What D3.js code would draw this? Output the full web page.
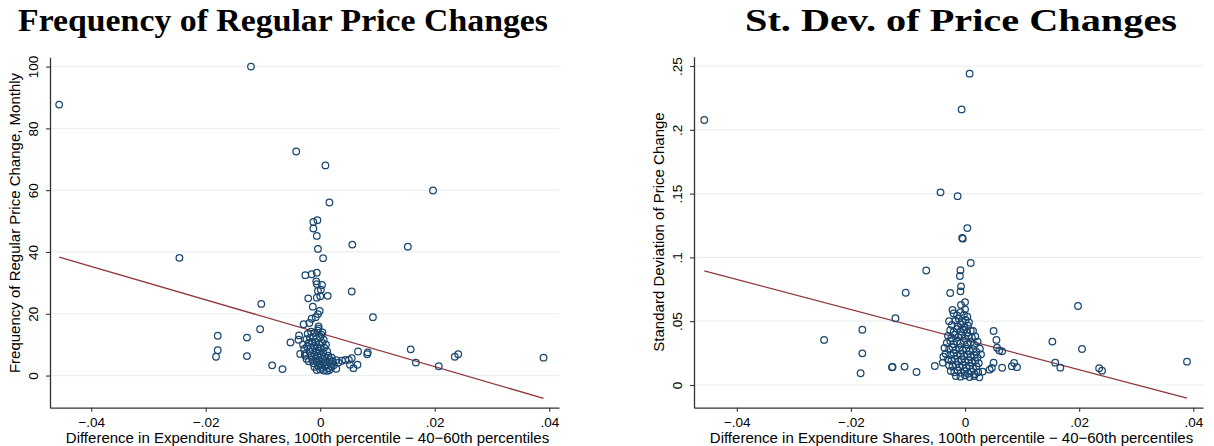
<!DOCTYPE html>
<html>
<head>
<meta charset="utf-8">
<script src="https://cdn.jsdelivr.net/npm/d3@7"></script>
<style>
  body { margin: 0; background: #fff; }
  svg { display: block; }
  .tick text { font-family: "Liberation Sans", Arial, sans-serif; font-size: 13.5px; fill: #000; }
  .axis-title { font-family: "Liberation Sans", Arial, sans-serif; font-size: 15px; fill: #000; }
  .panel-title { font-family: "Liberation Serif", serif; font-weight: bold; font-size: 32px; fill: #000; }
</style>
</head>
<body>
<svg id="chart" width="1214" height="446"></svg>
<script>
// figure size
const width = 1214;
const height = 446;

// x axis is shared by both panels
const xTicks = [-0.04, -0.02, 0, 0.02, 0.04];
const xTickLabels = ["\u2212.04", "\u2212.02", "0", ".02", ".04"];
const xTitle = "Difference in Expenditure Shares, 100th percentile \u2212 40\u221260th percentiles";

// left panel: frequency of regular price changes  [x, y]
const freqTitle = "Frequency of Regular Price Changes";
const freqYTitle = "Frequency of Regular Price Change, Monthly";
const freqYTicks = [0, 20, 40, 60, 80, 100];
const freqYTickLabels = ["0", "20", "40", "60", "80", "100"];
const freqPoints = [
  [-0.0456, 87.7], [-0.0121, 100], [-0.0042, 72.5], [0.0009, 68.0], [0.0197, 59.9],
  [0.0016, 56.0], [-0.0012, 49.7], [-0.0005, 50.3], [-0.0012, 47.6], [-0.0006, 45.2],
  [0.0056, 42.4], [0.0153, 41.7], [-0.0004, 41.0], [0.0005, 38.0], [-0.0246, 38.1],
  [-0.0026, 32.5], [-0.0015, 32.8], [-0.0006, 33.3], [-0.0007, 30.5], [-0.0006, 29.6],
  [0.0003, 29.3], [0.0001, 27.8], [-0.0004, 27.4], [0.0055, 27.2], [-0.0021, 25.0],
  [-0.0006, 25.2], [0.0000, 25.7], [0.0013, 25.8], [-0.0013, 22.3], [-0.0001, 20.9],
  [-0.0004, 19.9], [-0.0008, 18.9], [-0.0015, 18.4], [0.0092, 18.9], [-0.0029, 16.6],
  [-0.0019, 17.0], [-0.0003, 15.9], [-0.0103, 23.2], [-0.0179, 12.9], [-0.0179, 8.2],
  [-0.0182, 6.1], [-0.0128, 12.3], [-0.0128, 6.3], [-0.0105, 15.0], [-0.0084, 3.3],
  [-0.0066, 2.1], [-0.0052, 10.7], [-0.0037, 13.0], [-0.0038, 11.6], [-0.0035, 7.0],
  [0.0066, 7.8], [0.0083, 7.5], [0.0082, 6.9], [0.0055, 5.6], [0.0050, 5.1],
  [0.0044, 5.1], [0.0038, 4.8], [0.0065, 3.5], [0.0058, 2.4], [0.0052, 3.5],
  [0.0158, 8.5], [0.0167, 4.2], [0.0207, 3.0], [0.0235, 6.1], [0.0241, 6.9],
  [0.0390, 5.8], [0.0012, 1.5],
  // dense part around zero
  [-0.0022, 13.5], [-0.0016, 14.2], [-0.0010, 13.8], [-0.0004, 14.5], [0.0002, 13.2],
  [-0.0024, 11.8], [-0.0018, 12.2], [-0.0012, 12.6], [-0.0006, 12.0], [0.0000, 12.4], [0.0006, 11.6],
  [-0.0020, 10.6], [-0.0014, 11.0], [-0.0008, 10.8], [-0.0002, 10.2], [0.0004, 10.6], [0.0010, 10.0],
  [-0.0023, 9.4], [-0.0017, 9.0], [-0.0011, 9.6], [-0.0005, 9.2], [0.0001, 8.8], [0.0007, 9.0],
  [-0.0019, 7.8], [-0.0013, 8.2], [-0.0007, 7.6], [-0.0001, 8.0], [0.0005, 7.4], [0.0012, 7.8],
  [-0.0027, 7.0], [-0.0030, 10.0], [-0.0003, 15.2], [0.0004, 14.0], [-0.0028, 8.6], [-0.0026, 6.4],
  [-0.0016, 6.4], [-0.0010, 6.8], [-0.0004, 6.2], [0.0002, 6.6], [0.0008, 6.0], [0.0014, 6.4], [0.0020, 5.8],
  [-0.0014, 5.2], [-0.0008, 5.6], [-0.0002, 5.0], [0.0004, 5.4], [0.0010, 4.8], [0.0016, 5.2], [0.0022, 4.6], [0.0028, 5.0],
  [-0.0012, 4.0], [-0.0006, 4.4], [0.0000, 3.8], [0.0006, 4.2], [0.0012, 3.6], [0.0018, 4.0], [0.0024, 3.4], [0.0032, 4.2],
  [-0.0010, 2.8], [-0.0004, 3.2], [0.0002, 2.6], [0.0008, 3.0], [0.0014, 2.4], [0.0020, 2.8], [0.0028, 2.2],
  [-0.0006, 1.8], [0.0000, 2.0], [0.0006, 1.6], [0.0016, 1.8], [-0.0020, 4.6], [-0.0024, 5.4]
];
const freqFit = { intercept: 13.7, slope: -541 };

// right panel: st. dev. of price changes  [x, y]
const sdTitle = "St. Dev. of Price Changes";
const sdYTitle = "Standard Deviation of Price Change";
const sdYTicks = [0, 0.05, 0.1, 0.15, 0.2, 0.25];
const sdYTickLabels = ["0", ".05", ".1", ".15", ".2", ".25"];
const sdPoints = [
  [-0.0457, 0.2077], [0.0008, 0.244], [-0.0006, 0.216], [-0.0043, 0.151], [-0.0013, 0.148],
  [0.0004, 0.123], [-0.0005, 0.1152], [-0.0004, 0.1147], [0.0010, 0.0956], [-0.0068, 0.0897],
  [-0.0008, 0.0899], [-0.0009, 0.0854], [-0.0007, 0.0773], [-0.0008, 0.0734], [-0.0026, 0.0721],
  [-0.0104, 0.0723], [0.0000, 0.0650], [-0.0007, 0.0627], [0.0000, 0.0593], [-0.0022, 0.0588],
  [0.0198, 0.0619], [-0.0122, 0.0523], [-0.0247, 0.0353], [-0.0180, 0.0433], [-0.0180, 0.0248],
  [-0.0183, 0.0092], [-0.0128, 0.0139], [-0.0127, 0.0141], [-0.0106, 0.0144], [-0.0085, 0.0102],
  [-0.0053, 0.0149], [0.0050, 0.0423], [0.0055, 0.0353], [0.0056, 0.0292], [0.0060, 0.0270],
  [0.0065, 0.0264], [0.0050, 0.0175], [0.0047, 0.0133], [0.0043, 0.0120], [0.0065, 0.0135],
  [0.0082, 0.0147], [0.0086, 0.0173], [0.0091, 0.0140], [0.0153, 0.0340], [0.0205, 0.0282],
  [0.0158, 0.0175], [0.0167, 0.0136], [0.0235, 0.0131], [0.0240, 0.0112], [0.0389, 0.0183],
  [-0.0038, 0.0222], [-0.0039, 0.0175], [0.0014, 0.0423], [0.0025, 0.0060], [0.0031, 0.0105],
  // dense part around zero
  [-0.0020, 0.0560], [-0.0014, 0.0545], [-0.0008, 0.0570], [-0.0002, 0.0550], [0.0004, 0.0535],
  [-0.0017, 0.0505], [-0.0011, 0.0520], [-0.0005, 0.0495], [0.0001, 0.0510], [0.0007, 0.0490],
  [-0.0023, 0.0470], [-0.0013, 0.0460], [-0.0007, 0.0475], [-0.0001, 0.0455], [0.0005, 0.0465], [-0.0028, 0.0500],
  [-0.0026, 0.0430], [-0.0020, 0.0415], [-0.0014, 0.0440], [-0.0008, 0.0420], [-0.0002, 0.0435], [0.0004, 0.0410], [0.0010, 0.0425],
  [-0.0030, 0.0385], [-0.0024, 0.0370], [-0.0018, 0.0395], [-0.0012, 0.0375], [-0.0006, 0.0390], [0.0000, 0.0365], [0.0006, 0.0385], [0.0012, 0.0370], [0.0018, 0.0380],
  [-0.0032, 0.0330], [-0.0026, 0.0345], [-0.0020, 0.0320], [-0.0014, 0.0340], [-0.0008, 0.0325], [-0.0002, 0.0345], [0.0004, 0.0320], [0.0010, 0.0335], [0.0016, 0.0315], [0.0022, 0.0340],
  [-0.0036, 0.0290], [-0.0028, 0.0280], [-0.0022, 0.0295], [-0.0016, 0.0275], [-0.0010, 0.0290], [-0.0004, 0.0270], [0.0002, 0.0285], [0.0008, 0.0265], [0.0014, 0.0280], [0.0020, 0.0260], [0.0026, 0.0285],
  [-0.0034, 0.0245], [-0.0026, 0.0235], [-0.0020, 0.0250], [-0.0014, 0.0230], [-0.0008, 0.0245], [-0.0002, 0.0225], [0.0004, 0.0240], [0.0010, 0.0220], [0.0016, 0.0235], [0.0022, 0.0215], [0.0028, 0.0240],
  [-0.0030, 0.0200], [-0.0024, 0.0190], [-0.0018, 0.0205], [-0.0012, 0.0185], [-0.0006, 0.0200], [0.0000, 0.0180], [0.0006, 0.0195], [0.0012, 0.0175], [0.0018, 0.0190], [0.0024, 0.0170],
  [-0.0028, 0.0155], [-0.0022, 0.0145], [-0.0016, 0.0160], [-0.0010, 0.0140], [-0.0004, 0.0155], [0.0002, 0.0135], [0.0008, 0.0150], [0.0014, 0.0130], [0.0020, 0.0145],
  [-0.0025, 0.0110], [-0.0019, 0.0100], [-0.0013, 0.0115], [-0.0007, 0.0095], [-0.0001, 0.0110], [0.0005, 0.0090], [0.0011, 0.0105], [0.0017, 0.0085], [0.0023, 0.0100],
  [-0.0016, 0.0070], [-0.0008, 0.0065], [0.0000, 0.0075], [0.0008, 0.0062], [0.0016, 0.0070]
];
const sdFit = { intercept: 0.0355, slope: -1.179 };

const markerColor = "#1a476f";
const fitColor = "#90353b";
const gridColor = "#e8f0f2";

const svg = d3.select("#chart");

function drawPanel(p) {
  const g = svg.append("g");

  const x = d3.scaleLinear().domain(p.xDomain).range([p.left, p.right]);
  const y = d3.scaleLinear().domain(p.yDomain).range([p.bottom, p.top]);

  // horizontal grid lines
  g.append("g")
    .selectAll("line")
    .data(p.yTicks)
    .join("line")
    .attr("x1", p.left)
    .attr("x2", p.right)
    .attr("y1", d => y(d))
    .attr("y2", d => y(d))
    .attr("stroke", gridColor)
    .attr("stroke-width", 1.2);

  // y axis, labels turned vertical like stata
  const yAxis = g.append("g")
    .attr("transform", `translate(${p.left},0)`)
    .call(d3.axisLeft(y).tickValues(p.yTicks).tickSize(4).tickSizeOuter(0)
      .tickFormat((d, i) => p.yTickLabels[i]));
  yAxis.selectAll(".tick text")
    .attr("x", null).attr("dy", null)
    .attr("text-anchor", "middle")
    .attr("transform", "translate(-12,0) rotate(-90)");

  // x axis
  const xAxis = g.append("g")
    .attr("transform", `translate(0,${p.bottom})`)
    .call(d3.axisBottom(x).tickValues(xTicks).tickSize(4).tickSizeOuter(0)
      .tickFormat((d, i) => xTickLabels[i]));
  xAxis.selectAll(".tick text").attr("y", 10);

  g.selectAll(".domain").attr("stroke", "#333").attr("stroke-width", 1.3);
  g.selectAll(".tick line").attr("stroke", "#333").attr("stroke-width", 1.1);

  // axis titles
  g.append("text")
    .attr("class", "axis-title")
    .attr("text-anchor", "middle")
    .attr("transform", `translate(${p.yTitleX},${p.yTitleY}) rotate(-90)`)
    .text(p.yTitle);

  g.append("text")
    .attr("class", "axis-title")
    .attr("text-anchor", "middle")
    .attr("x", (p.left + p.right) / 2 + 3)
    .attr("y", 442.5)
    .text(xTitle);

  // title, stretched a little to the width of the palatino original
  g.append("text")
    .attr("class", "panel-title")
    .attr("text-anchor", "middle")
    .attr("x", p.titleX)
    .attr("y", 31)
    .attr("textLength", p.titleWidth)
    .attr("lengthAdjust", "spacingAndGlyphs")
    .text(p.title);

  // fitted line across the range of x
  const xr = d3.extent(p.points, d => d[0]);
  g.append("line")
    .attr("x1", x(xr[0]))
    .attr("y1", y(p.fit.intercept + p.fit.slope * xr[0]))
    .attr("x2", x(xr[1]))
    .attr("y2", y(p.fit.intercept + p.fit.slope * xr[1]))
    .attr("stroke", fitColor)
    .attr("stroke-width", 1.3);

  // hollow markers
  g.append("g")
    .selectAll("circle")
    .data(p.points)
    .join("circle")
    .attr("cx", d => x(d[0]))
    .attr("cy", d => y(d[1]))
    .attr("r", 3.3)
    .attr("fill", "none")
    .attr("stroke", markerColor)
    .attr("stroke-width", 1.25);
}

drawPanel({
  title: freqTitle, titleX: 283, titleWidth: 530,
  yTitle: freqYTitle, yTitleX: 20, yTitleY: 223,
  yTicks: freqYTicks, yTickLabels: freqYTickLabels,
  points: freqPoints, fit: freqFit,
  xDomain: [-0.0472, 0.0417], yDomain: [-10.4, 103],
  left: 50, right: 559, top: 57.3, bottom: 407.7
});

drawPanel({
  title: sdTitle, titleX: 961, titleWidth: 432,
  yTitle: sdYTitle, yTitleX: 664, yTitleY: 232,
  yTicks: sdYTicks, yTickLabels: sdYTickLabels,
  points: sdPoints, fit: sdFit,
  xDomain: [-0.0475, 0.0417], yDomain: [-0.0178, 0.2573],
  left: 694, right: 1203, top: 56.7, bottom: 407.7
});
</script>
</body>
</html>
